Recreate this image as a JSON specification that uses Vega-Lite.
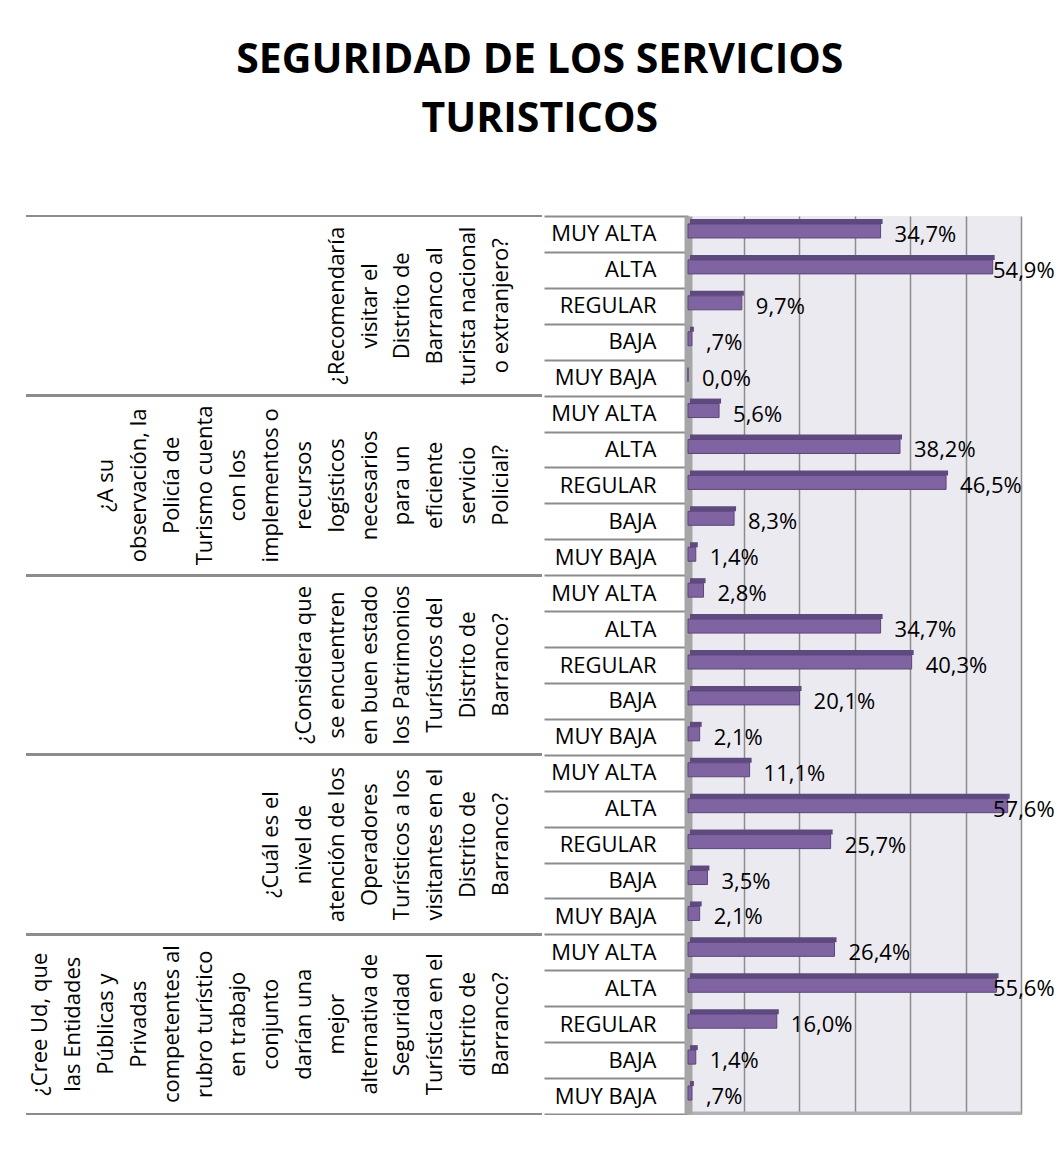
{
  "$schema": "https://vega.github.io/schema/vega-lite/v6.json",
  "padding": {"left": 25, "top": 40, "right": 0, "bottom": 0},
  "background": "white",
  "title": {
    "text": ["SEGURIDAD DE LOS SERVICIOS", "TURISTICOS"],
    "font": "Open Sans",
    "fontSize": 41,
    "fontWeight": "bold",
    "lineHeight": 59,
    "anchor": "middle",
    "color": "black",
    "offset": 64
  },
  "datasets": {
    "lines": [
      {"q": "1", "k": 5, "t": "¿Recomendaría"},
      {"q": "1", "k": 4, "t": "visitar el"},
      {"q": "1", "k": 3, "t": "Distrito de"},
      {"q": "1", "k": 2, "t": "Barranco al"},
      {"q": "1", "k": 1, "t": "turista nacional"},
      {"q": "1", "k": 0, "t": "o extranjero?"},
      {"q": "2", "k": 12, "t": "¿A su"},
      {"q": "2", "k": 11, "t": "observación, la"},
      {"q": "2", "k": 10, "t": "Policía de"},
      {"q": "2", "k": 9, "t": "Turismo cuenta"},
      {"q": "2", "k": 8, "t": "con los"},
      {"q": "2", "k": 7, "t": "implementos o"},
      {"q": "2", "k": 6, "t": "recursos"},
      {"q": "2", "k": 5, "t": "logísticos"},
      {"q": "2", "k": 4, "t": "necesarios"},
      {"q": "2", "k": 3, "t": "para un"},
      {"q": "2", "k": 2, "t": "eficiente"},
      {"q": "2", "k": 1, "t": "servicio"},
      {"q": "2", "k": 0, "t": "Policial?"},
      {"q": "3", "k": 6, "t": "¿Considera que"},
      {"q": "3", "k": 5, "t": "se encuentren"},
      {"q": "3", "k": 4, "t": "en buen estado"},
      {"q": "3", "k": 3, "t": "los Patrimonios"},
      {"q": "3", "k": 2, "t": "Turísticos del"},
      {"q": "3", "k": 1, "t": "Distrito de"},
      {"q": "3", "k": 0, "t": "Barranco?"},
      {"q": "4", "k": 7, "t": "¿Cuál es el"},
      {"q": "4", "k": 6, "t": "nivel de"},
      {"q": "4", "k": 5, "t": "atención de los"},
      {"q": "4", "k": 4, "t": "Operadores"},
      {"q": "4", "k": 3, "t": "Turísticos a los"},
      {"q": "4", "k": 2, "t": "visitantes en el"},
      {"q": "4", "k": 1, "t": "Distrito de"},
      {"q": "4", "k": 0, "t": "Barranco?"},
      {"q": "5", "k": 14, "t": "¿Cree Ud, que"},
      {"q": "5", "k": 13, "t": "las Entidades"},
      {"q": "5", "k": 12, "t": "Públicas y"},
      {"q": "5", "k": 11, "t": "Privadas"},
      {"q": "5", "k": 10, "t": "competentes al"},
      {"q": "5", "k": 9, "t": "rubro turístico"},
      {"q": "5", "k": 8, "t": "en trabajo"},
      {"q": "5", "k": 7, "t": "conjunto"},
      {"q": "5", "k": 6, "t": "darían una"},
      {"q": "5", "k": 5, "t": "mejor"},
      {"q": "5", "k": 4, "t": "alternativa de"},
      {"q": "5", "k": 3, "t": "Seguridad"},
      {"q": "5", "k": 2, "t": "Turística en el"},
      {"q": "5", "k": 1, "t": "distrito de"},
      {"q": "5", "k": 0, "t": "Barranco?"}
    ],
    "rows": [
      {"key": "1|MUY ALTA", "v": 34.7, "lab": "34,7%"},
      {"key": "1|ALTA", "v": 54.9, "lab": "54,9%"},
      {"key": "1|REGULAR", "v": 9.7, "lab": "9,7%"},
      {"key": "1|BAJA", "v": 0.7, "lab": ",7%"},
      {"key": "1|MUY BAJA", "v": 0.0, "lab": "0,0%"},
      {"key": "2|MUY ALTA", "v": 5.6, "lab": "5,6%"},
      {"key": "2|ALTA", "v": 38.2, "lab": "38,2%"},
      {"key": "2|REGULAR", "v": 46.5, "lab": "46,5%"},
      {"key": "2|BAJA", "v": 8.3, "lab": "8,3%"},
      {"key": "2|MUY BAJA", "v": 1.4, "lab": "1,4%"},
      {"key": "3|MUY ALTA", "v": 2.8, "lab": "2,8%"},
      {"key": "3|ALTA", "v": 34.7, "lab": "34,7%"},
      {"key": "3|REGULAR", "v": 40.3, "lab": "40,3%"},
      {"key": "3|BAJA", "v": 20.1, "lab": "20,1%"},
      {"key": "3|MUY BAJA", "v": 2.1, "lab": "2,1%"},
      {"key": "4|MUY ALTA", "v": 11.1, "lab": "11,1%"},
      {"key": "4|ALTA", "v": 57.6, "lab": "57,6%"},
      {"key": "4|REGULAR", "v": 25.7, "lab": "25,7%"},
      {"key": "4|BAJA", "v": 3.5, "lab": "3,5%"},
      {"key": "4|MUY BAJA", "v": 2.1, "lab": "2,1%"},
      {"key": "5|MUY ALTA", "v": 26.4, "lab": "26,4%"},
      {"key": "5|ALTA", "v": 55.6, "lab": "55,6%"},
      {"key": "5|REGULAR", "v": 16.0, "lab": "16,0%"},
      {"key": "5|BAJA", "v": 1.4, "lab": "1,4%"},
      {"key": "5|MUY BAJA", "v": 0.7, "lab": ",7%"}
    ]
  },
  "spacing": 0,
  "hconcat": [
    {
      "width": 516,
      "height": 898,
      "data": {"name": "lines"},
      "layer": [
        {
          "mark": {"type": "rule", "color": "#8C8C8C", "strokeWidth": 2},
          "encoding": {
            "y": {"field": "q", "type": "nominal", "sort": null, "bandPosition": 0,
                  "scale": {"paddingInner": 0, "paddingOuter": 0}, "axis": null}
          }
        },
        {
          "mark": {"type": "rule", "color": "#8C8C8C", "strokeWidth": 2},
          "encoding": {
            "y": {"field": "q", "type": "nominal", "sort": null, "bandPosition": 1, "axis": null}
          }
        },
        {
          "mark": {"type": "text", "angle": 270, "align": "center", "baseline": "middle",
                   "font": "Open Sans", "fontSize": 22, "color": "black"},
          "encoding": {
            "y": {"field": "q", "type": "nominal", "sort": null, "axis": null},
            "x": {"field": "k", "type": "quantitative",
                  "scale": {"domain": [-1.24, 14.44], "reverse": true, "nice": false, "zero": false}, "axis": null},
            "text": {"field": "t", "type": "nominal"}
          }
        }
      ]
    },
    {
      "width": 333,
      "height": 898,
      "data": {"name": "rows"},
      "view": {"fill": "#ECEAF1", "stroke": null},
      "encoding": {
        "y": {
          "field": "key", "type": "nominal", "sort": null,
          "scale": {"paddingInner": 0, "paddingOuter": 0},
          "axis": {
            "orient": "left", "title": null,
            "labelExpr": "split(datum.value, '|')[1]",
            "labelFont": "Open Sans", "labelFontSize": 22, "labelColor": "black",
            "labelAlign": "right", "labelBaseline": "middle",
            "tickBand": "extent", "tickSize": 144, "tickColor": "#8C8C8C", "tickWidth": 2,
            "labelPadding": -112,
            "domainColor": "#A6A6A6", "domainWidth": 8, "grid": false
          }
        }
      },
      "layer": [
        {
          "mark": {"type": "bar", "size": 5, "yOffset": -12.5, "xOffset": 2, "color": "#5E4A7E"},
          "encoding": {
            "x": {"field": "v", "type": "quantitative",
                  "scale": {"domain": [0, 60]},
                  "axis": {"orient": "bottom", "values": [0, 10, 20, 30, 40, 50, 60], "labels": false, "ticks": false,
                           "domain": true, "domainColor": "#B3B0B8", "domainWidth": 6,
                           "grid": true, "gridColor": "#8C8C8C", "gridWidth": 1.5, "title": null}}
          }
        },
        {
          "mark": {"type": "bar", "size": 14, "yOffset": -3, "color": "#8064A2", "stroke": "#5A467A", "strokeWidth": 1},
          "encoding": {"x": {"field": "v", "type": "quantitative"}}
        },
        {
          "transform": [{"filter": "datum.v < 50"}],
          "mark": {"type": "text", "align": "left", "baseline": "middle", "dx": 14, "dy": 1,
                   "font": "Open Sans", "fontSize": 22, "color": "black"},
          "encoding": {"x": {"field": "v", "type": "quantitative"}, "text": {"field": "lab", "type": "nominal"}}
        },
        {
          "transform": [{"filter": "datum.v >= 50"}],
          "mark": {"type": "text", "align": "left", "baseline": "middle", "dx": -28, "dy": 1,
                   "font": "Open Sans", "fontSize": 22, "color": "black"},
          "encoding": {"x": {"datum": 60, "type": "quantitative"}, "text": {"field": "lab", "type": "nominal"}}
        }
      ]
    }
  ],
  "config": {"view": {"stroke": null}}
}
